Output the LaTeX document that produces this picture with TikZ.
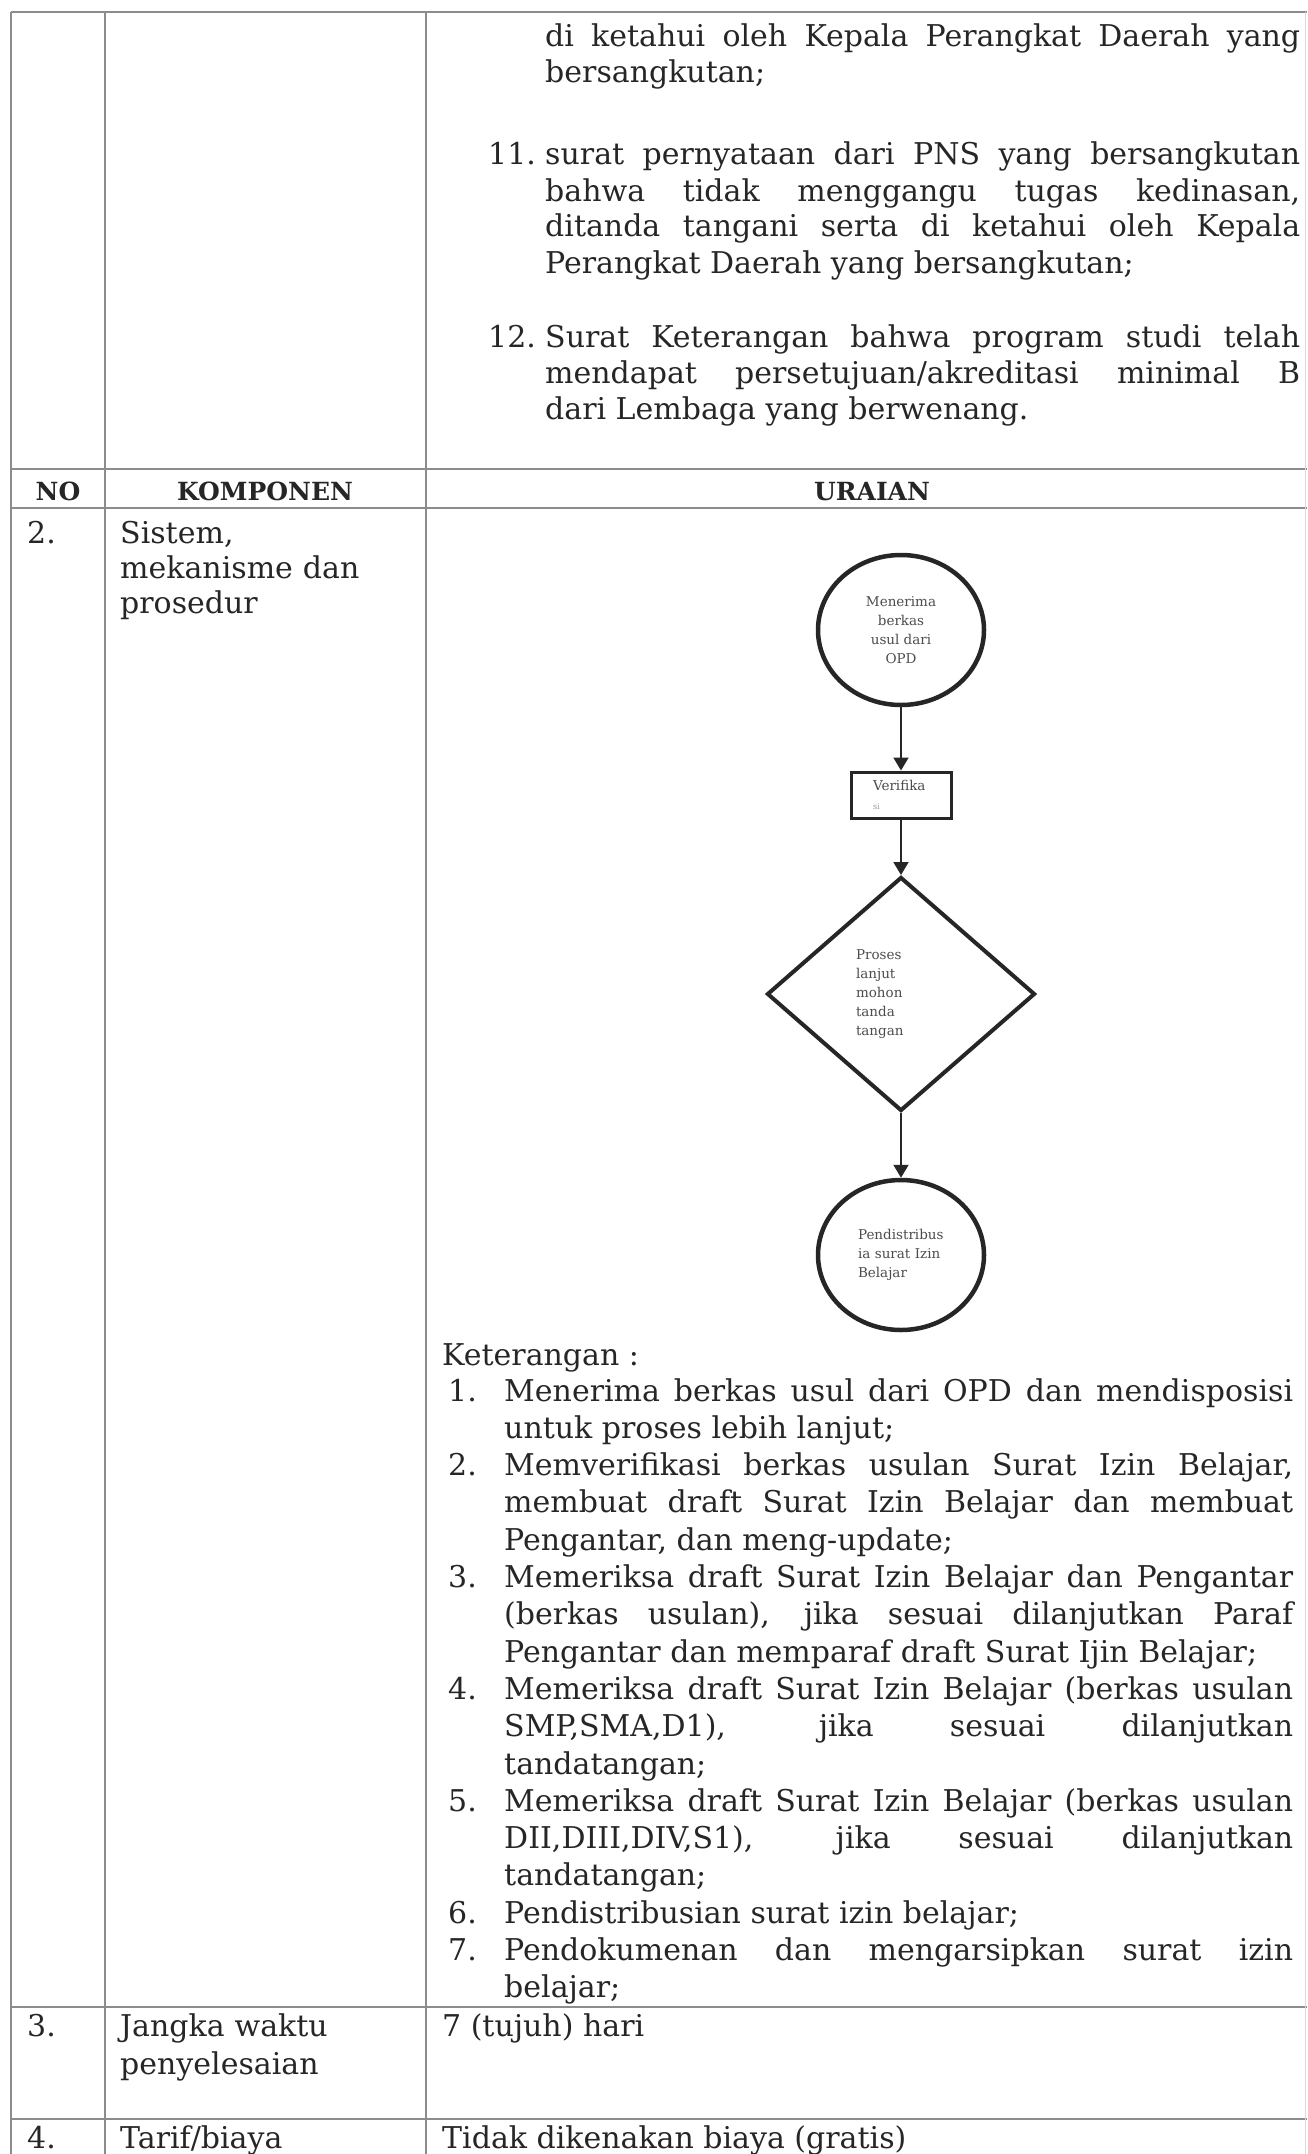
\documentclass[tikz,border=0pt]{standalone}
\usepackage{fontspec}
\setmainfont{DejaVu Serif}
\usetikzlibrary{arrows.meta, shapes.geometric}

\tolerance=10000
\hbadness=10000
\hyphenpenalty=10000

\tikzset{
    tableline/.style={draw=black!45, line width=2pt},
    cell/.style={inner sep=0pt, anchor=base west, text=black!85, font=\fontsize{30}{36}\selectfont},
    para/.style={cell, align=justify, font=\fontsize{30}{#1}\selectfont},
    para/.default=36,
    headcell/.style={inner sep=0pt, anchor=base, text=black!85, font=\bfseries\fontsize{25}{25}\selectfont},
    flowshape/.style={draw=black!85, inner sep=0pt, text=black!70, font=\fontsize{13.5}{19}\selectfont},
    flowarrow/.style={draw=black!85, line width=2pt, -{Triangle[length=13pt, width=15pt]}}
}

\begin{document}
\begin{tikzpicture}[x=1pt, y=-1pt]
    % variables
    \pgfmathsetmacro{\vLeft}{11}
    \pgfmathsetmacro{\vColA}{105}
    \pgfmathsetmacro{\vColB}{426}
    \pgfmathsetmacro{\vRight}{1305}
    \pgfmathsetmacro{\vFlowX}{901}
    \pgfmathsetmacro{\vPitch}{37.3}

    \useasboundingbox (0,0) rectangle (1307,2154);
    \clip (0,0) rectangle (1307,2154);

    \draw[tableline] (\vLeft,12) -- (1307,12);
    \foreach \y in {469, 508, 2007, 2119}
        \draw[tableline] (\vLeft,\y) -- (1307,\y);
    \foreach \x in {\vLeft, \vColA, \vColB}
        \draw[tableline] (\x,12) -- (\x,2154);
    \draw[draw=black!15, line width=1pt] (\vRight,12) -- (\vRight,2154);

    \node[headcell] (hNo) at (58,500) {NO};
    \node[headcell] (hKomponen) at (265,500) {KOMPONEN};
    \node[headcell] (hUraian) at (872,500) {URAIAN};

    \node[para, text width=755pt] (prevItem) at (545,47) {di ketahui oleh Kepala Perangkat Daerah yang\linebreak bersangkutan;};
    \node[cell] (numEleven) at (488,165) {11.};
    \node[para, text width=755pt] (itemEleven) at (545,165) {surat pernyataan dari PNS yang bersangkutan\linebreak bahwa tidak menggangu tugas kedinasan,\linebreak ditanda tangani serta di ketahui oleh Kepala\linebreak Perangkat Daerah yang bersangkutan;};
    \node[cell] (numTwelve) at (488,347) {12.};
    \node[para, text width=755pt] (itemTwelve) at (545,347) {Surat Keterangan bahwa program studi telah\linebreak mendapat persetujuan/akreditasi minimal B\linebreak dari Lembaga yang berwenang.};

    \node[cell] (noTwo) at (27,543) {2.};
    \node[para=35, text width=300pt, align=left] (kompTwo) at (120,543) {Sistem,\\mekanisme dan\\prosedur};

    \node[flowshape, ellipse, line width=4.5pt, minimum width=166pt, minimum height=150pt, align=center] (terima) at (\vFlowX,630) {Menerima\\berkas\\usul dari\\OPD};
    \node[flowshape, rectangle, line width=3pt, minimum width=100pt, minimum height=46pt, text width=56pt, align=left] (verifikasi) at (\vFlowX,795) {Verifika\\{\fontsize{8}{8}\selectfont\color{black!40}si}};
    \node[flowshape, diamond, line width=4pt, minimum width=268pt, minimum height=234pt, text width=90pt, align=left] (tandatangan) at (\vFlowX,994) {Proses\\lanjut\\mohon\\tanda\\tangan};
    \node[flowshape, ellipse, line width=4.5pt, minimum width=166pt, minimum height=150pt, text width=86pt, align=left] (distribusi) at (\vFlowX,1255) {Pendistribus\\ia surat Izin\\Belajar};

    \draw[flowarrow] (terima.south) -- (verifikasi.north);
    \draw[flowarrow] (verifikasi.south) -- (tandatangan.north);
    \draw[flowarrow] (tandatangan.south) -- (distribusi.north);

    \node[cell] (keterangan) at (442,1365) {Keterangan :};
    \foreach \n/\k/\t in {
        1/0/{Menerima berkas usul dari OPD dan mendisposisi\linebreak untuk proses lebih lanjut;},
        2/2/{Memverifikasi berkas usulan Surat Izin Belajar,\linebreak membuat draft Surat Izin Belajar dan membuat\linebreak Pengantar, dan meng-update;},
        3/5/{Memeriksa draft Surat Izin Belajar dan Pengantar\linebreak (berkas usulan), jika sesuai dilanjutkan Paraf\linebreak Pengantar dan memparaf draft Surat Ijin Belajar;},
        4/8/{Memeriksa draft Surat Izin Belajar (berkas usulan\linebreak SMP,SMA,D1), jika sesuai dilanjutkan\linebreak tandatangan;},
        5/11/{Memeriksa draft Surat Izin Belajar (berkas usulan\linebreak DII,DIII,DIV,S1), jika sesuai dilanjutkan\linebreak tandatangan;},
        6/14/{Pendistribusian surat izin belajar;},
        7/15/{Pendokumenan dan mengarsipkan surat izin\linebreak belajar;}} {
        \node[cell] (num\n) at (448,{1401+\k*\vPitch}) {\n.};
        \node[para=37.3, text width=789pt] (item\n) at (504,{1401+\k*\vPitch}) {\t};
    }

    \node[cell] (noThree) at (27,2036) {3.};
    \node[para=38, text width=300pt, align=left] (kompThree) at (120,2036) {Jangka waktu\\penyelesaian};
    \node[cell] (uraiThree) at (442,2036) {7 (tujuh) hari};

    \node[cell] (noFour) at (27,2148) {4.};
    \node[cell] (kompFour) at (120,2148) {Tarif/biaya};
    \node[cell] (uraiFour) at (442,2148) {Tidak dikenakan biaya (gratis)};
\end{tikzpicture}
\end{document}
